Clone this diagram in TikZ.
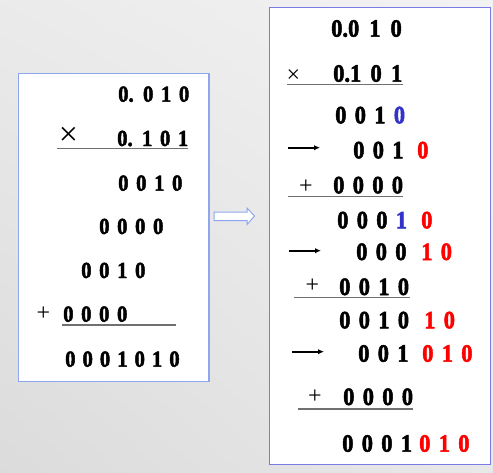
\documentclass[tikz,border=0pt]{standalone}
\usepackage{fontspec}
\setmainfont{Liberation Serif}
\newfontfamily\digitfont{Liberation Serif}[FakeStretch=0.9,BoldFeatures={FakeBold=2}]
\usepackage{xcolor}
\usetikzlibrary{shadings,arrows.meta}
\definecolor{lframe}{HTML}{8EA6F0}
\definecolor{rframe}{HTML}{7A7AE6}
\definecolor{bdig}{HTML}{3333CC}
\definecolor{rdig}{HTML}{FF0000}
\definecolor{rulegray}{HTML}{707070}
\newcommand\lgap{\spaceskip=7.6pt\relax}
\newcommand\rgap{\spaceskip=8.3pt\relax}
\tikzset{
  lnum/.style={anchor=base west,inner sep=0,
    font=\digitfont\bfseries\fontsize{23}{23}\selectfont\lgap},
  rnum/.style={anchor=base west,inner sep=0,
    font=\digitfont\bfseries\fontsize{25}{25}\selectfont\rgap},
  sign/.style={anchor=center,inner sep=0,font=\fontsize{24}{24}\selectfont},
  sumrule/.style={draw=rulegray,line width=1.3pt},
  shiftto/.style={draw=black,line width=1.6pt,-{Latex[length=6pt,width=5.5pt]}}
}
\begin{document}
\begin{tikzpicture}[x=1pt,y=-1pt]
  \useasboundingbox (0,0) rectangle (493,472);
  \shade[lower left=black!14,upper right=black!5,lower right=black!9,upper left=black!8]
    (0,0) rectangle (493,472);

  \draw[lframe,line width=1.3pt,fill=white] (18.5,73.5) rectangle (209,381.5);
  \draw[rframe,line width=1.3pt,fill=white] (269.5,7.5) rectangle (490.5,464.5);
  \draw[lframe,line width=1pt,fill=white] (214,212) -- (247,212) -- (247,208)
    -- (254.5,216) -- (247,224.5) -- (247,220.5) -- (214,220.5) -- cycle;

  \node (la) [lnum] at (118,101.7) {0. 0 1 0};
  \node (lx) [sign,font=\fontsize{34}{34}\selectfont] at (68.5,136.5) {×};
  \node (lb) [lnum] at (117,146) {0. 1 0 1};
  \path (57,148.7) coordinate (lbs) (188,148.7) coordinate (lbe);
  \draw[sumrule] (lbs) -- (lbe);
  \node (lc) [lnum] at (118,190.7) {0 0 1 0};
  \node (ld) [lnum] at (99,234) {0 0 0 0};
  \node (le) [lnum] at (81,278) {0 0 1 0};
  \node (lp) [sign] at (43.5,314) {+};
  \node (lf) [lnum] at (63,321.7) {0 0 0 0};
  \path (62,325) coordinate (lfs) (176,325) coordinate (lfe);
  \draw[sumrule] (lfs) -- (lfe);
  \node (lg) [lnum] at (65,366.7) {\spaceskip=7pt\relax 0 0 0 1 0 1 0};

  \node (ra) [rnum] at (331,36.7) {\spaceskip=10pt\relax 0.0 1 0};
  \node (rx) [sign] at (293.5,76.5) {×};
  \node (rb) [rnum] at (333,81.7) {\spaceskip=9.2pt\relax 0.1 0 1};
  \path (287,84.3) coordinate (rbs) (403,84.3) coordinate (rbe);
  \draw[sumrule] (rbs) -- (rbe);
  \node (rc) [rnum] at (335,123.3) {0 0 1 \textcolor{bdig}{0}};
  \path (288,147.7) coordinate (rds) (320,147.7) coordinate (rde);
  \draw[shiftto] (rds) -- (rde);
  \node (rd) [rnum] at (353,158.3) {0 0 1};
  \node (rdt) [rnum,rdig] at (417,158.3) {0};
  \node (rpe) [sign] at (306,186.5) {+};
  \node (re) [rnum] at (333,193.3) {0 0 0 0};
  \path (288,196.7) coordinate (res) (403,196.7) coordinate (ree);
  \draw[sumrule] (res) -- (ree);
  \node (rf) [rnum] at (337,228.3) {0 0 0 \textcolor{bdig}{1}};
  \node (rft) [rnum,rdig] at (421,228.3) {0};
  \path (289,250.7) coordinate (rgs) (321,250.7) coordinate (rge);
  \draw[shiftto] (rgs) -- (rge);
  \node (rg) [rnum] at (356,260) {0 0 0};
  \node (rgt) [rnum,rdig] at (421,260) {1 0};
  \node (rph) [sign] at (312.5,286) {+};
  \node (rh) [rnum] at (339,295) {0 0 1 0};
  \path (294,297.7) coordinate (rhs) (410,297.7) coordinate (rhe);
  \draw[sumrule] (rhs) -- (rhe);
  \node (ri) [rnum] at (339,328.3) {0 0 1 0};
  \node (rit) [rnum,rdig] at (424,328.3) {1 0};
  \path (292,351.7) coordinate (rjs) (324,351.7) coordinate (rje);
  \draw[shiftto] (rjs) -- (rje);
  \node (rj) [rnum] at (358,361.7) {0 0 1};
  \node (rjt) [rnum,rdig] at (422,361.7) {0 1 0};
  \node (rpk) [sign] at (315,397) {+};
  \node (rk) [rnum] at (343,405) {0 0 0 0};
  \path (298,409) coordinate (rks) (413,409) coordinate (rke);
  \draw[sumrule] (rks) -- (rke);
  \node (rl) [rnum] at (342,451.7) {0 0 0 1};
  \node (rlt) [rnum,rdig] at (419,451.7) {0 1 0};
\end{tikzpicture}
\end{document}
